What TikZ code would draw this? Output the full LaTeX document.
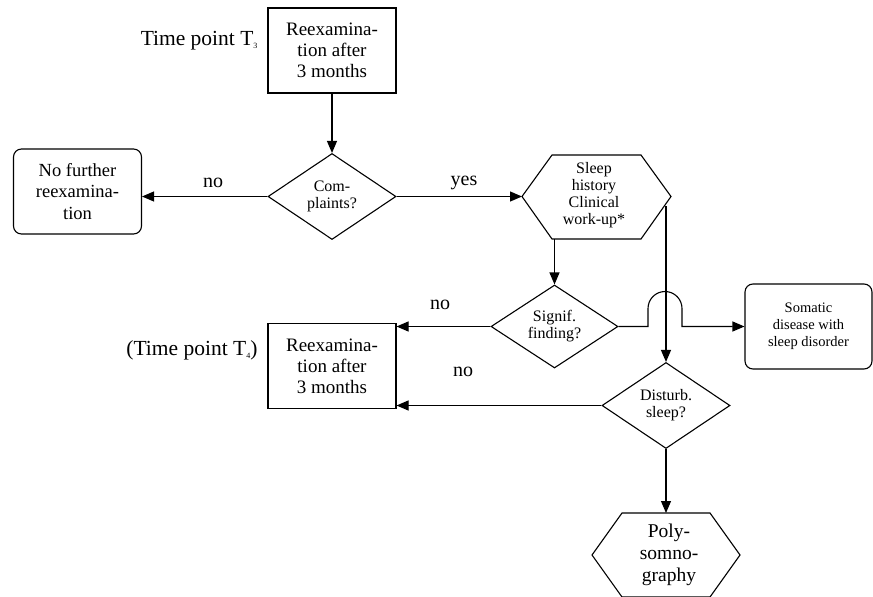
\documentclass[tikz,border=0pt]{standalone}
\usepackage{fontspec}
\setmainfont{Liberation Serif}
\usetikzlibrary{arrows.meta,shapes.geometric}
\newcommand{\tsub}[1]{\raisebox{-3pt}{\fontsize{8}{8}\selectfont #1}}
\begin{document}
\begin{tikzpicture}[x=1pt,y=-1pt, line width=1.1pt,
 arr/.style={-{Triangle[length=12pt,width=10pt]}},
 box/.style={draw, minimum width=128pt, minimum height=85pt, align=center, inner sep=0pt, font=\fontsize{19}{21}\selectfont},
 rbox/.style={box, rounded corners=8pt},
 dia/.style={draw, diamond, aspect=1.5, minimum width=128pt, minimum height=86pt, inner sep=0pt, align=center, font=\fontsize{16}{17}\selectfont},
 lbl/.style={font=\fontsize{20}{22}\selectfont, inner sep=0pt},
 hextext/.style={align=center, inner sep=0pt}]
\useasboundingbox (0,0) rectangle (873,597);

% nodes
\node[box] (top) at (332,50.5) {Reexamina-\\tion after\\3 months};
\node[lbl, anchor=east, font=\fontsize{21.5}{23}\selectfont] (t3) at (258,41) {Time point T\tsub{3}};
\node[dia] (compl) at (332,196.5) {Com-\\plaints?};
\node[rbox, font=\fontsize{18.5}{21.5}\selectfont] (nofur) at (77.5,191.5) {No further\\reexamina-\\tion};
\node[dia, minimum width=127pt, minimum height=83pt] (signif) at (554.5,326.5) {Signif.\\finding?};
\node[box] (reex2) at (332,366) {Reexamina-\\tion after\\3 months};
\node[lbl, anchor=east, font=\fontsize{21.5}{23}\selectfont] (t4) at (258,350) {(Time point T\tsub{4})};
\node[rbox, minimum width=127pt, font=\fontsize{14.5}{17}\selectfont] (somatic) at (808.5,326.5) {Somatic\\disease with\\sleep disorder};
\node[dia] (disturb) at (666,405.5) {Disturb.\\sleep?};

% hexagon: sleep history
\coordinate (slw) at (522,196.5);
\coordinate (sltl) at (552,155);
\coordinate (sltr) at (641,155);
\coordinate (sle) at (671,196.5);
\coordinate (slbr) at (641,239);
\coordinate (slbl) at (552,239);
\draw (slw) -- (sltl) -- (sltr) -- (sle) -- (slbr) -- (slbl) -- cycle;
\node[hextext, font=\fontsize{16}{17}\selectfont] (sleep) at (594,195) {Sleep\\history\\Clinical\\work-up*};
\coordinate (slb) at (554.5,239);
\coordinate (slr) at (666,206);

% hexagon: polysomnography
\coordinate (pow) at (592,555);
\coordinate (potl) at (622,513);
\coordinate (potr) at (710,513);
\coordinate (poe) at (740,555);
\coordinate (pobr) at (710,597);
\coordinate (pobl) at (622,597);
\draw (pow) -- (potl) -- (potr) -- (poe) -- (pobr) -- (pobl) -- cycle;
\node[hextext, font=\fontsize{19.5}{22}\selectfont] (poly) at (669,555) {Poly-\\somno-\\graphy};
\coordinate (pot) at (666,513);

% connectors
\draw[arr] (top.south) -- (compl.north);
\draw[arr] (compl.west) -- (compl.west -| nofur.east);
\draw[arr] (compl.east) -- (slw);
\draw[arr] (slb) -- (signif.north);
\draw[arr] (slr) -- (disturb.north);
\draw[arr] (signif.west) -- (signif.west -| reex2.east);
\draw[arr] (signif.east) -- (648,326.5) -- ++(0,-18) arc[start angle=180, end angle=360, radius=17] -- (682,326.5) -- (somatic.west);
\draw[arr] (disturb.west) -- (disturb.west -| reex2.east);
\draw[arr] (disturb.south) -- (pot);

% labels
\node[lbl] (lno1) at (213,183) {no};
\node[lbl] (lyes) at (464,183) {yes};
\node[lbl] (lno2) at (440,305) {no};
\node[lbl] (lno3) at (463,372) {no};
\end{tikzpicture}
\end{document}
